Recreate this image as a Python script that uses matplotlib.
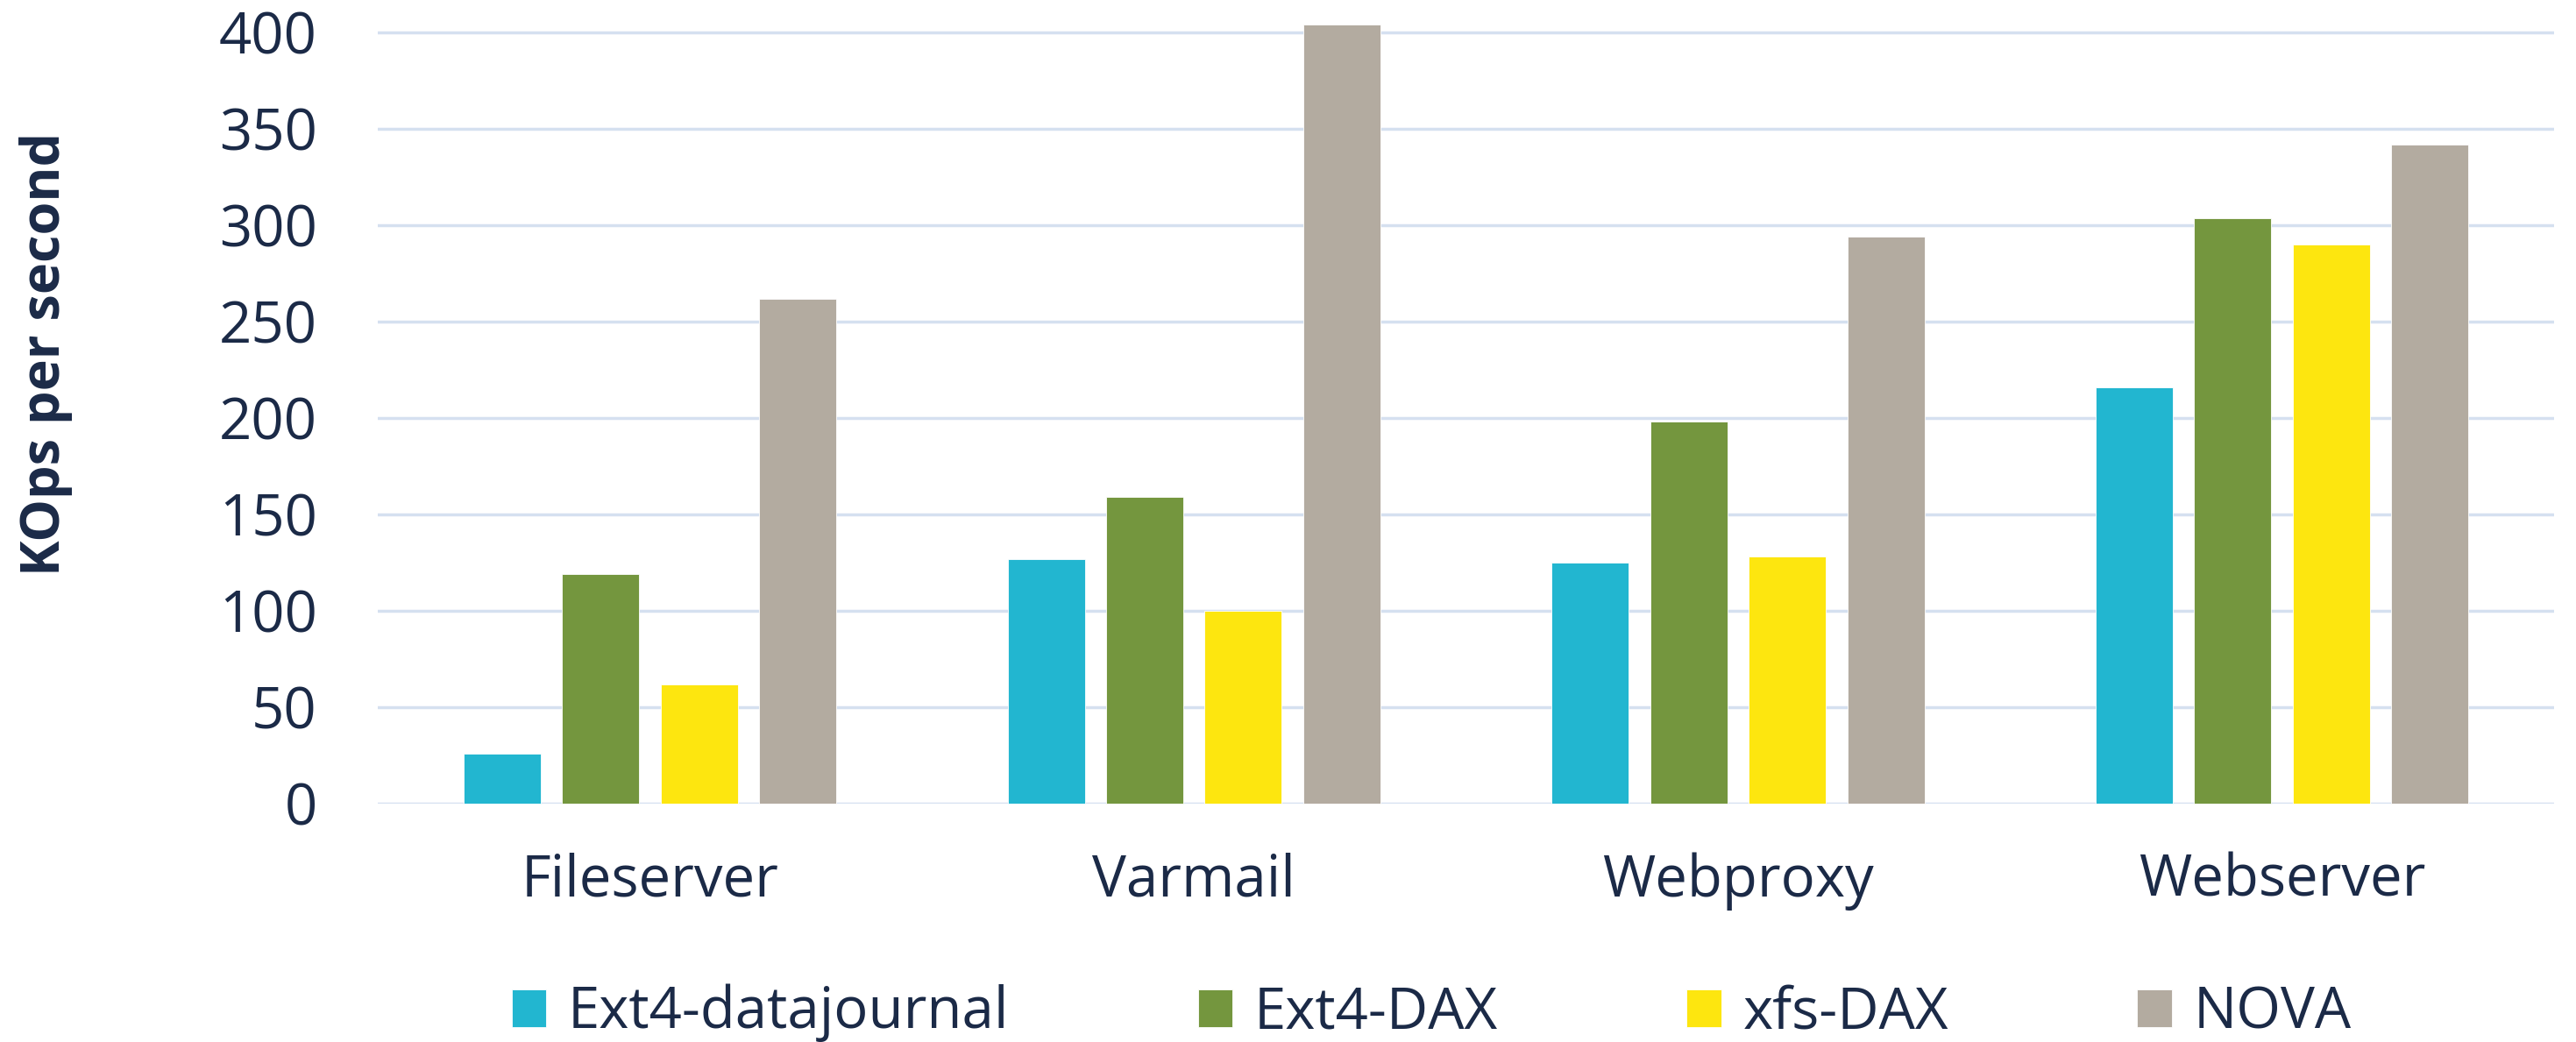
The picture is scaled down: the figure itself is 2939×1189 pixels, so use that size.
import matplotlib.pyplot as plt
import numpy as np

# Filebench throughput, thousands of operations per second
workloads = ["Fileserver", "Varmail", "Webproxy", "Webserver"]
systems = ["Ext4-datajournal", "Ext4-DAX", "xfs-DAX", "NOVA"]
ext4_datajournal = [26, 127, 125, 216]
ext4_dax = [119, 159, 198, 303.5]
xfs_dax = [62, 100, 128, 290]
nova = [262, 404, 294, 342]
yticks = [0, 50, 100, 150, 200, 250, 300, 350, 400]

series = [ext4_datajournal, ext4_dax, xfs_dax, nova]
colors = ["#22B6D0", "#74963E", "#FDE60F", "#B3ABA0"]
text_color = "#1B2A47"
grid_color = "#D5E0F0"

plt.rcParams["font.family"] = ["Open Sans", "DejaVu Sans"]

fig = plt.figure(figsize=(29.39, 11.89), dpi=100)
ax = fig.add_axes([0.1467, 0.2288, 0.9915 - 0.1467, 0.9874 - 0.2288])

x = np.arange(len(workloads))
width = 0.1418
step = 0.1812
for i, (vals, name, c) in enumerate(zip(series, systems, colors)):
    ax.bar(x + (i - 1.5) * step, vals, width, color=c, label=name,
           edgecolor="white", linewidth=0.6, zorder=3, clip_on=False)

ax.set_xlim(-0.5, len(workloads) - 0.5)
ax.set_ylim(0, 410)
ax.set_yticks(yticks)
ax.set_xticks(x)
ax.set_xticklabels(workloads)

for y in yticks:
    ax.axhline(y, color=grid_color, linewidth=2.5, zorder=1)

for s in ax.spines.values():
    s.set_visible(False)

ax.tick_params(axis="both", length=0, labelsize=47, colors=text_color)
ax.tick_params(axis="y", pad=50)
ax.tick_params(axis="x", pad=40)

fig.text(0.0177, 0.66, "KOps per second", rotation=90, fontsize=44,
         fontweight="bold", color=text_color, ha="center", va="center")

leg = fig.legend(loc="center", bbox_to_anchor=(0.5557, 0.0277), ncol=4,
                 frameon=False, fontsize=47, handlelength=0.6,
                 handleheight=0.64, handletextpad=0.38, columnspacing=3.3)
for t in leg.get_texts():
    t.set_color(text_color)

fig.savefig("out.png", dpi=100, facecolor="white")
